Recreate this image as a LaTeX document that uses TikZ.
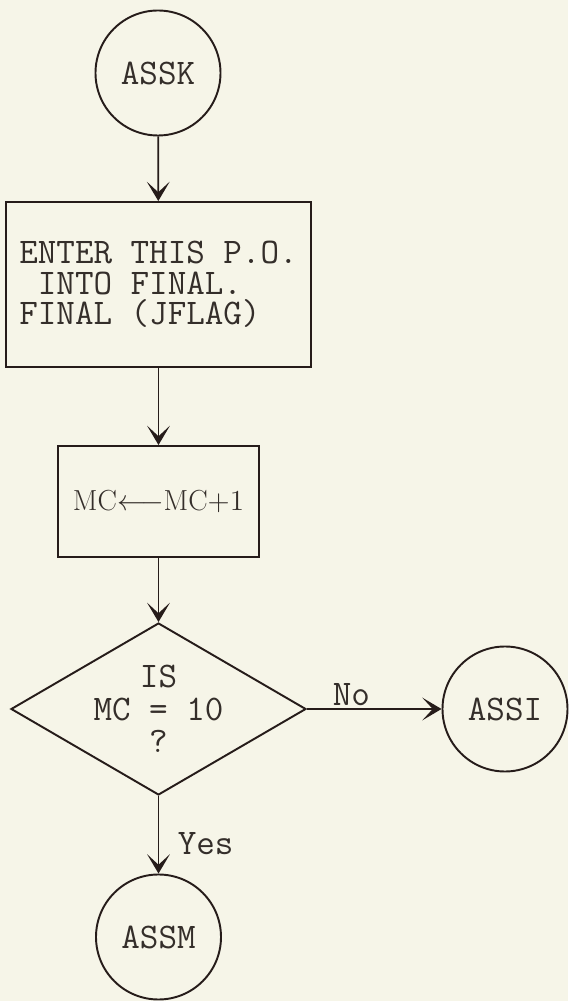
\RequirePackage{fix-cm}
\documentclass[tikz,border=0pt]{standalone}
\usepackage{fontspec}
\usepackage{tikz}
\usetikzlibrary{arrows.meta,positioning,shapes.geometric}

\definecolor{paper}{RGB}{246,245,232}
\definecolor{ink}{RGB}{38,28,26}
\definecolor{inktext}{RGB}{52,46,42}

\newcommand{\typed}{\fontsize{20.5}{17.5}\selectfont\ttfamily}

\tikzset{
    conn/.style={circle, draw=ink, line width=1.1pt, minimum size=2.5cm, inner sep=0pt, text=inktext, font=\typed},
    procbox/.style={rectangle, draw=ink, line width=1.1pt, inner sep=0pt, text=inktext},
    decide/.style={diamond, draw=ink, line width=1.1pt, aspect=1.715, minimum width=5.9cm,
        minimum height=3.44cm, inner sep=-2pt, align=center, text=inktext,
        font=\fontsize{20.5}{18.5}\selectfont\ttfamily},
    flow/.style={draw=ink, line width=1pt, -{Stealth[length=11pt,width=13pt,inset=6pt]}},
    tag/.style={text=inktext, font=\typed, inner sep=1.5pt}
}

\begin{document}
\begin{tikzpicture}
    % Page
    \fill[paper] (0, 0) rectangle (11.36, 20.02);
    \useasboundingbox (0, 0) rectangle (11.36, 20.02);

    % Main column
    \node[conn] (assk) at (3.16, 18.56) {ASSK};
    \node[procbox, minimum width=6.1cm, minimum height=3.3cm, align=left, font=\typed] (enter) at (3.17, 14.33)
        {ENTER THIS P.O.\\\ INTO FINAL.\\FINAL (JFLAG)};
    \node[procbox, minimum width=4.02cm, minimum height=2.22cm, font=\fontsize{16.5}{19}\selectfont] (incr) at (3.17, 9.99)
        {$\mathrm{MC}{\longleftarrow}\mathrm{MC}{+}1$};
    \node[decide] (ques) at (3.17, 5.84) {IS\\MC = 10\\?};
    \node[conn] (assm) at (3.17, 1.28) {ASSM};

    % Exit to the right
    \node[conn] (assi) at (10.10, 5.84) {ASSI};

    % Connectors
    \foreach \a/\b in {assk/enter, enter/incr, incr/ques} {
        \draw[flow] (\a) -- (\b);
    }
    \draw[flow] (ques.east) -- node[tag, above, pos=0.33] (no) {No} (assi.west);
    \draw[flow] (ques.south) -- node[tag, pos=0.62, right=9pt] (yes) {Yes} (assm.north);
\end{tikzpicture}
\end{document}
